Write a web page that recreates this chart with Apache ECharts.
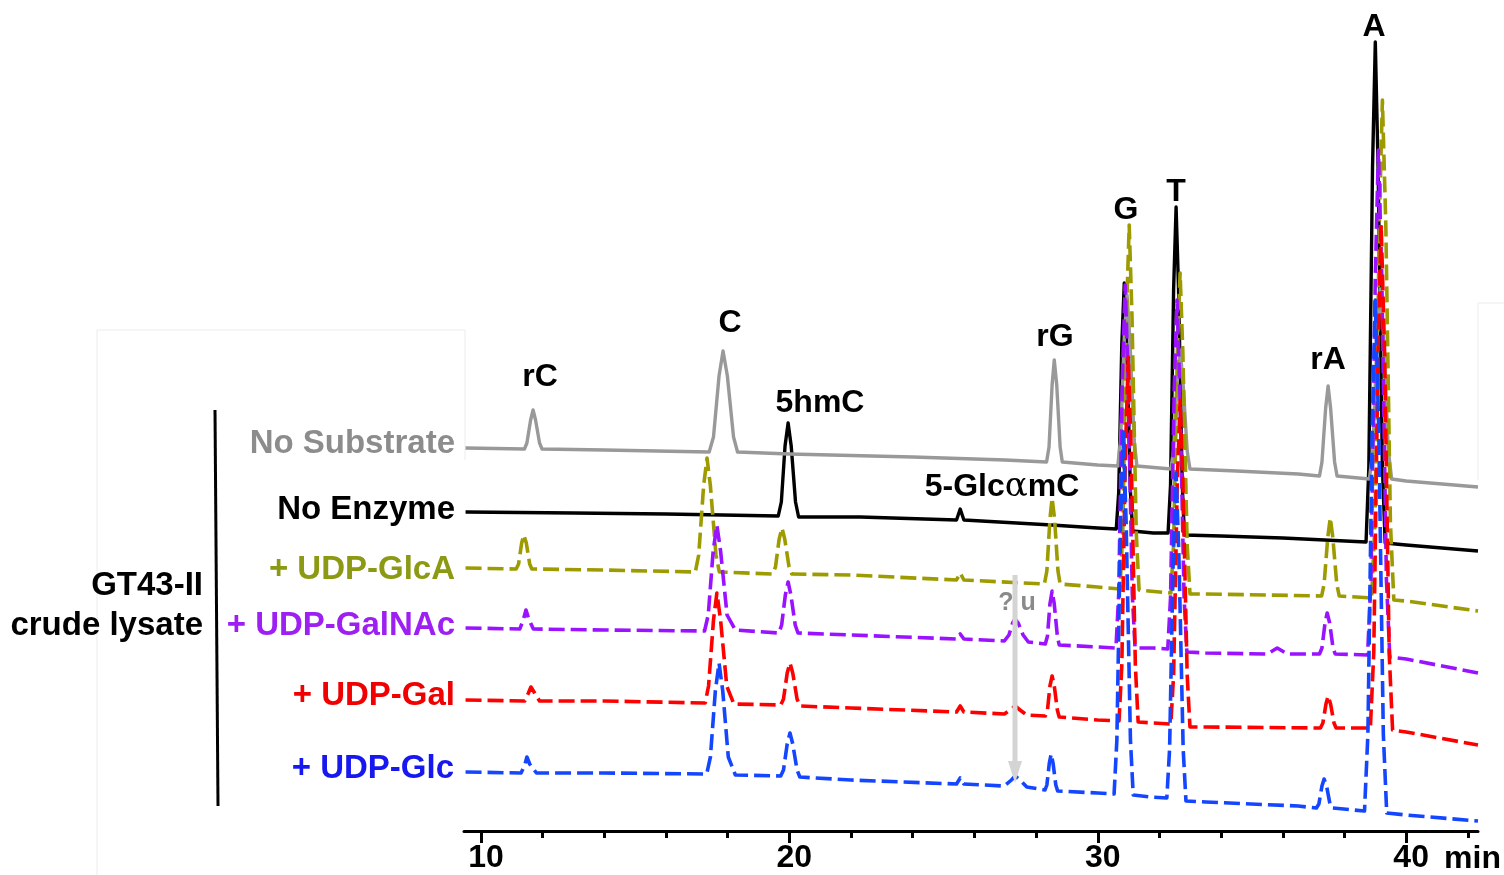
<!DOCTYPE html>
<html><head><meta charset="utf-8">
<script src="https://cdn.jsdelivr.net/npm/echarts@6/dist/echarts.min.js"></script>
<style>html,body{margin:0;padding:0;background:#fff}#c{width:1504px;height:875px}</style>
</head><body><div id="c"></div>
<script>
// ---- axis ----
const xMin = 9.45, xMax = 42.33;
const majorTicks = [10, 20, 30, 40];
const minorTicks = [12, 14, 16, 18, 22, 24, 26, 28, 32, 34, 36, 38, 42];
const xUnit = 'min';

// ---- traces: [retention time (min), stacked signal (a.u.)] ----
const traceNames = ['No Substrate', 'No Enzyme', '+ UDP-GlcA', '+ UDP-GalNAc', '+ UDP-Gal', '+ UDP-Glc'];

const noSubstrate = [[9.5,383],[11.41,382],[11.49,388],[11.61,411],[11.69,421],[11.77,411],[11.90,388],[11.98,382],[14,381],[17.40,379],[17.54,394],[17.72,455],[17.85,480],[17.99,455],[18.19,394],[18.32,379],[20,377],[24,374],[27,371],[28.34,369],[28.42,384],[28.52,446],[28.59,471],[28.67,446],[28.78,384],[28.85,369],[30,366],[30.65,365],[30.74,391],[30.86,493],[30.95,536],[31.04,493],[31.18,391],[31.27,365],[32.37,362],[32.46,380],[32.58,451],[32.67,481],[32.76,451],[32.90,380],[32.99,362],[34.5,360],[36.5,357],[37.19,355],[37.27,369],[37.39,423],[37.47,445],[37.55,423],[37.68,369],[37.76,355],[38.81,352],[38.92,381],[39.06,495],[39.16,542],[39.27,495],[39.42,381],[39.53,352],[40,350],[42.33,344]];

const noEnzyme = [[9.5,319],[13,318],[16,317],[19.64,315],[19.74,329],[19.86,385],[19.96,408],[20.06,385],[20.20,329],[20.30,314],[22.3,314],[25.42,311],[25.54,322],[25.66,311],[28.5,306],[30,303],[30.60,302],[30.68,339],[30.78,487],[30.86,548],[30.94,487],[31.06,339],[31.13,300],[31.8,298],[32.28,298],[32.36,346],[32.46,542],[32.54,624],[32.62,542],[32.74,346],[32.81,296],[34,295],[36,293],[38.70,289],[38.79,364],[38.91,664],[39.00,789],[39.09,664],[39.23,364],[39.32,288],[40,286],[42.33,280]];

const udpGlcA = [[9.5,263],[11.14,262],[11.22,267],[11.32,288],[11.39,296],[11.47,288],[11.58,267],[11.65,262],[14,261],[16.95,259],[17.06,276],[17.22,345],[17.33,373],[17.44,345],[17.62,276],[17.73,259],[19.46,257],[19.55,264],[19.67,292],[19.76,303],[19.85,292],[19.99,264],[20.08,257],[22,256],[25.42,251],[25.54,258],[25.66,251],[28.27,247],[28.35,260],[28.45,312],[28.52,333],[28.60,312],[28.71,260],[28.78,247],[30,244],[30.72,242],[30.81,297],[30.93,515],[31.02,606],[31.11,515],[31.25,297],[31.34,241],[32.37,238],[32.46,286],[32.58,478],[32.67,558],[32.76,478],[32.90,286],[32.99,237],[33.5,237],[37.26,235],[37.34,247],[37.46,294],[37.54,313],[37.62,294],[37.75,247],[37.83,235],[38.88,233],[38.99,308],[39.13,607],[39.23,731],[39.34,607],[39.49,308],[39.60,231],[40,230],[42.33,220]];

const udpGalNAc = [[9.5,203],[11.26,202],[11.38,212],[11.46,221],[11.55,212],[11.7,202],[14,201],[17.25,200],[17.37,216],[17.53,280],[17.65,306],[17.77,280],[17.98,216],[18.25,201],[19.66,198],[19.75,206],[19.87,236],[19.96,249],[20.05,236],[20.19,206],[20.28,198],[22,196],[25.42,192],[25.54,197],[25.66,192],[26.97,190],[27.12,196],[27.24,208],[27.32,212],[27.42,208],[27.58,196],[27.75,189],[28.30,187],[28.37,195],[28.45,227],[28.52,240],[28.59,227],[28.69,195],[28.75,186],[30,184],[30.59,183],[30.68,237],[30.80,455],[30.89,546],[30.98,455],[31.12,237],[31.21,183],[31.8,183],[32.27,182],[32.36,233],[32.48,443],[32.57,531],[32.66,443],[32.80,233],[32.89,179],[33.5,178],[35.5,177],[35.82,183],[36.15,177],[37.19,177],[37.27,183],[37.37,208],[37.44,218],[37.52,208],[37.63,183],[37.70,177],[38.75,176],[38.86,252],[39.0,555],[39.1,681],[39.21,555],[39.36,252],[39.47,174],[40,172],[42.33,158]];

const udpGal = [[9.5,131],[11.42,130],[11.54,138],[11.62,144],[11.72,139],[11.9,130],[14,130],[17.27,128],[17.38,145],[17.54,211],[17.65,238],[17.77,211],[17.97,145],[18.2,127],[19.72,126],[19.81,132],[19.93,158],[20.02,168],[20.11,158],[20.25,132],[20.34,125],[22,123],[25.42,119],[25.54,125],[25.66,119],[26.97,117],[27.2,122],[27.32,125],[27.48,121],[27.7,116],[28.30,115],[28.37,121],[28.45,145],[28.52,155],[28.59,145],[28.69,121],[28.75,114],[30,111],[30.69,110],[30.78,165],[30.90,383],[30.99,474],[31.08,383],[31.22,165],[31.31,109],[31.8,108],[32.37,107],[32.46,156],[32.58,350],[32.67,431],[32.76,350],[32.90,156],[32.99,104],[33.5,104],[37.22,103],[37.30,108],[37.40,127],[37.47,135],[37.55,127],[37.66,108],[37.73,103],[38.84,103],[38.95,178],[39.09,480],[39.19,606],[39.30,480],[39.45,178],[39.56,101],[40,99],[42.33,86]];

const udpGlc = [[9.5,59],[11.3,58],[11.42,66],[11.49,74],[11.58,67],[11.8,58],[14,58],[17.32,57],[17.44,74],[17.60,140],[17.72,168],[17.84,140],[18.02,74],[18.25,56],[19.72,55],[19.81,61],[19.93,87],[20.02,98],[20.11,87],[20.25,61],[20.34,54],[22,51],[25.42,47],[25.54,53],[25.66,47],[26.97,45],[27.2,51],[27.32,55],[27.48,51],[27.7,44],[28.29,41],[28.35,46],[28.43,68],[28.49,77],[28.55,68],[28.64,46],[28.70,40],[30,38],[30.53,37],[30.62,91],[30.74,309],[30.83,399],[30.92,309],[31.06,91],[31.15,36],[31.7,34],[32.24,33],[32.33,82],[32.45,277],[32.54,358],[32.63,277],[32.77,82],[32.86,30],[33.5,29],[36.5,25],[37.09,23],[37.17,27],[37.27,45],[37.34,52],[37.42,45],[37.53,27],[37.60,23],[38.65,20],[38.76,97],[38.90,403],[39.0,531],[39.11,403],[39.26,97],[39.37,18],[40,16],[42.33,10]];

// ---- annotation texts ----
const peakNames = ['rC', 'C', '5hmC', 'rG', 'G', 'T', 'rA', 'A'];
const unknownLabel = '? u';
const groupLabel = ['GT43-II', 'crude lysate'];

// ---- styles ----
const FONT = "'Liberation Sans', Arial, Helvetica, sans-serif";
const lineColors = ['#999999', '#000000', '#9d9b00', '#9a12ff', '#ff0000', '#1446ff'];
const textColors = ['#8c8c8c', '#000000', '#8b9a12', '#9d1ff2', '#f00000', '#1717f0'];
const dashed = [false, false, true, true, true, true];
const drawOrder = [1, 0, 2, 3, 4, 5];
const traces = [noSubstrate, noEnzyme, udpGlcA, udpGalNAc, udpGal, udpGlc];

const chart = echarts.init(document.getElementById('c'), null, {renderer: 'canvas'});

const series = drawOrder.map(i => ({
  name: traceNames[i],
  type: 'line',
  data: traces[i],
  showSymbol: false,
  symbol: 'none',
  xAxisIndex: 0,
  lineStyle: {color: lineColors[i], width: dashed[i] ? 3.6 : 3.4, type: dashed[i] ? [16, 6] : 'solid', cap: 'butt', join: 'round'},
  emphasis: {disabled: true},
  silent: true,
  z: 2
}));

const leftLabelPos = [[455, 444], [455, 510], [455, 570], [455, 626], [455, 696], [454, 769]];
const peakLabelPos = [[540, 377], [730, 323], [820, 403], [1055, 337], [1126, 210], [1176, 192], [1328, 360], [1374, 27]];

const graphic = [];
// faint frame remnants
graphic.push({type: 'polyline', shape: {points: [[97, 875], [97, 330], [465, 330], [465, 460]]}, style: {stroke: '#ececec', lineWidth: 1, fill: null}, z: 0});
graphic.push({type: 'polyline', shape: {points: [[1504, 303], [1478, 303], [1478, 480]]}, style: {stroke: '#ececec', lineWidth: 1, fill: null}, z: 0});
// bracket line
graphic.push({type: 'line', shape: {x1: 215, y1: 410, x2: 218, y2: 806}, style: {stroke: '#000', lineWidth: 3}, z: 10});
traceNames.forEach((n, i) => {
  graphic.push({type: 'text', x: leftLabelPos[i][0], y: leftLabelPos[i][1], z: 10,
    style: {text: n, font: 'bold 33px ' + FONT, fill: textColors[i], align: 'right', verticalAlign: 'middle'}});
});
graphic.push({type: 'text', x: 203, y: 586, z: 10, style: {text: groupLabel[0], font: 'bold 33px ' + FONT, fill: '#000', align: 'right', verticalAlign: 'middle'}});
graphic.push({type: 'text', x: 203, y: 626, z: 10, style: {text: groupLabel[1], font: 'bold 33px ' + FONT, fill: '#000', align: 'right', verticalAlign: 'middle'}});
peakNames.forEach((n, i) => {
  graphic.push({type: 'text', x: peakLabelPos[i][0], y: peakLabelPos[i][1], z: 10,
    style: {text: n, font: 'bold 32px ' + FONT, fill: '#000', align: 'center', verticalAlign: 'middle'}});
});
graphic.push({type: 'text', x: 1002, y: 487, z: 10,
  style: {text: '5-Glc{a|α}mC', font: 'bold 32px ' + FONT, fill: '#000', align: 'center', verticalAlign: 'middle',
    rich: {a: {font: "normal 34px 'DejaVu Serif', serif", fill: '#000'}}}});
// arrow and "? u"
graphic.push({type: 'line', shape: {x1: 1015, y1: 575, x2: 1015, y2: 764}, style: {stroke: '#d4d4d4', lineWidth: 5}, z: 9});
graphic.push({type: 'polygon', shape: {points: [[1008, 761], [1022, 761], [1015, 783]]}, style: {fill: '#d4d4d4'}, z: 9});
graphic.push({type: 'text', x: 1017, y: 603, z: 10, style: {text: unknownLabel, font: 'bold 25px ' + FONT, fill: '#8a8a8a', align: 'center', verticalAlign: 'middle'}});
// unit
graphic.push({type: 'text', x: 1501, y: 859, z: 10, style: {text: xUnit, font: 'bold 32px ' + FONT, fill: '#000', align: 'right', verticalAlign: 'middle'}});

chart.setOption({
  animation: false,
  backgroundColor: '#fff',
  grid: {left: 464, right: 26, top: 0, bottom: 44, containLabel: false, outerBoundsMode: 'none'},
  xAxis: [{
    type: 'value', min: xMin, max: xMax, position: 'bottom',
    axisLine: {show: true, onZero: false, lineStyle: {color: '#000', width: 3}},
    axisTick: {show: true, customValues: majorTicks, length: 12, lineStyle: {color: '#000', width: 3}},
    axisLabel: {show: true, customValues: majorTicks, margin: 11, padding: [0, 0, 0, 10], color: '#000', fontSize: 32, fontWeight: 'bold', fontFamily: FONT},
    splitLine: {show: false}
  }, {
    type: 'value', min: xMin, max: xMax, position: 'bottom', gridIndex: 0,
    axisLine: {show: false, onZero: false},
    axisTick: {show: true, customValues: minorTicks, length: 7, lineStyle: {color: '#000', width: 3}},
    axisLabel: {show: false},
    splitLine: {show: false}
  }],
  yAxis: {type: 'value', min: 0, max: 831, show: false, splitLine: {show: false}},
  series: series,
  graphic: graphic
});
</script>
</body></html>
